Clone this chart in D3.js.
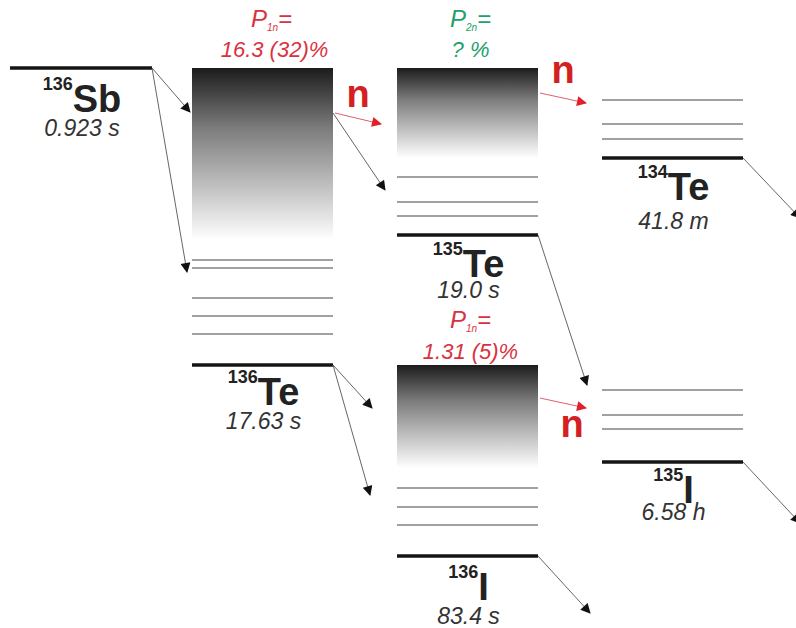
<!DOCTYPE html>
<html>
<head>
<meta charset="utf-8">
<script src="https://cdn.jsdelivr.net/npm/d3@7"></script>
<style>
  body { margin: 0; background: #fff; }
  svg { display: block; font-family: "Liberation Sans", Arial, sans-serif; }
</style>
</head>
<body>
<div id="chart"></div>
<script>
(function () {
  'use strict';

  // data (schematic energies, arbitrary units: larger = lower on page)
  var nuclides = [
    {id: 'sb136', A: '136', sym: 'Sb', half: '0.923 s', col: -0.89, ground: 68},
    {id: 'te136', A: '136', sym: 'Te', half: '17.63 s', col: 0, ground: 365},
    {id: 'te135', A: '135', sym: 'Te', half: '19.0 s', col: 1, ground: 235},
    {id: 'te134', A: '134', sym: 'Te', half: '41.8 m', col: 2, ground: 158},
    {id: 'i136', A: '136', sym: 'I', half: '83.4 s', col: 1, ground: 556},
    {id: 'i135', A: '135', sym: 'I', half: '6.58 h', col: 2, ground: 462}
  ];

  var excited = {
    te136: [260, 268, 298, 316, 334],
    te135: [177, 202, 216],
    te134: [100, 124, 139],
    i136: [488, 507, 525],
    i135: [390, 415, 429]
  };

  // neutron-unbound continuum (top, bottom)
  var continua = [
    {id: 'te136', top: 68, bottom: 240},
    {id: 'te135', top: 68, bottom: 158},
    {id: 'i136', top: 365, bottom: 468}
  ];

  var pn = [
    {id: 'te136', sub: '1n', value: '16.3 (32)%', kind: 'p1'},
    {id: 'te135', sub: '2n', value: '? %', kind: 'p2'},
    {id: 'i136', sub: '1n', value: '1.31 (5)%', kind: 'p1'}
  ];

  // beta transitions
  var betas = [
    {from: 'sb136', y0: 68, to: 'te136', y1: 112},
    {from: 'sb136', y0: 68, to: 'te136', y1: 272},
    {from: 'te136', y0: 113, to: 'te135', y1: 190},
    {from: 'te136', y0: 365, to: 'i136', y1: 408},
    {from: 'te136', y0: 365, to: 'i136', y1: 495},
    {from: 'te135', y0: 235, to: 'i135', y1: 385},
    {from: 'i136', y0: 556, to: 'out', y1: 613},
    {from: 'te134', y0: 158, to: 'out2', y1: 218},
    {from: 'i135', y0: 462, to: 'out2', y1: 523}
  ];

  // beta-delayed neutron emission
  var neutrons = [
    {from: 'te136', y0: 113, y1: 124},
    {from: 'te135', y0: 93, y1: 103},
    {from: 'i136', y0: 398, y1: 408}
  ];

  var W = 796, H = 628;
  var svg = d3.select('#chart').append('svg').attr('width', W).attr('height', H);

  var x = d3.scaleLinear().domain([0, 2]).range([192, 602]);
  var y = d3.scaleLinear().domain([0, 628]).range([0, 628]);
  var levelW = 141;

  // label layout tweaks (offset below ground for symbol / half-life)
  var labelDy = {
    sb136: [44, 68], te136: [40, 64], te135: [42, 63],
    te134: [42, 71], i136: [44, 68], i135: [41, 58]
  };
  var arrowDx = [-2, -5, -12, -25, -27, -15];
  var nLabel = {te136: [358, 107], te135: [563, 83], i136: [572, 437]};

  var byId = {};
  nuclides.forEach(function (d) { byId[d.id] = d; });

  function left(id) { return id === 'sb136' ? 10 : x(byId[id].col); }
  function right(id) { return id === 'sb136' ? 152 : x(byId[id].col) + levelW; }
  function mid(id) { return id === 'sb136' ? 81 : x(byId[id].col) + levelW / 2; }

  var defs = svg.append('defs');
  var grad = defs.append('linearGradient').attr('id', 'cont')
    .attr('x1', 0).attr('y1', 0).attr('x2', 0).attr('y2', 1);
  grad.append('stop').attr('offset', '0%').attr('stop-color', '#1c1c1c');
  grad.append('stop').attr('offset', '35%').attr('stop-color', '#7c7c7c');
  grad.append('stop').attr('offset', '100%').attr('stop-color', '#ffffff');

  function marker(id, color) {
    defs.append('marker').attr('id', id)
      .attr('viewBox', '0 0 10 10').attr('refX', 9).attr('refY', 5)
      .attr('markerWidth', 12).attr('markerHeight', 10)
      .attr('markerUnits', 'userSpaceOnUse')
      .attr('orient', 'auto')
      .append('path').attr('d', 'M0,0L10,5L0,10Z').attr('fill', color);
  }
  marker('arrK', '#111');
  marker('arrR', '#e0202a');

  // continua
  svg.selectAll('.cont').data(continua).enter().append('rect')
    .attr('class', 'cont')
    .attr('x', function (d) { return left(d.id); })
    .attr('y', function (d) { return y(d.top); })
    .attr('width', levelW)
    .attr('height', function (d) { return y(d.bottom) - y(d.top); })
    .attr('fill', 'url(#cont)');

  // excited levels
  Object.keys(excited).forEach(function (id) {
    svg.selectAll('.lv-' + id).data(excited[id]).enter().append('line')
      .attr('class', 'lv-' + id)
      .attr('x1', left(id)).attr('x2', right(id))
      .attr('y1', function (d) { return y(d); })
      .attr('y2', function (d) { return y(d); })
      .attr('stroke', '#444').attr('stroke-width', 1.2);
  });

  // ground states
  svg.selectAll('.gs').data(nuclides).enter().append('line')
    .attr('class', 'gs')
    .attr('x1', function (d) { return left(d.id); })
    .attr('x2', function (d) { return right(d.id); })
    .attr('y1', function (d) { return y(d.ground); })
    .attr('y2', function (d) { return y(d.ground); })
    .attr('stroke', '#151515').attr('stroke-width', 3.5);

  // nuclide labels
  var lab = svg.selectAll('.nlab').data(nuclides).enter().append('g').attr('class', 'nlab');
  lab.append('text')
    .attr('x', function (d) { return mid(d.id) + 1; })
    .attr('y', function (d) { return y(d.ground) + labelDy[d.id][0]; })
    .attr('text-anchor', 'middle')
    .attr('fill', '#222')
    .attr('font-weight', 'bold')
    .each(function (d) {
      var t = d3.select(this);
      t.append('tspan').attr('font-size', 18).attr('dy', -22).text(d.A);
      t.append('tspan').attr('font-size', 38).attr('dy', 22).text(d.sym);
    });
  lab.append('text')
    .attr('x', function (d) { return mid(d.id) + 1; })
    .attr('y', function (d) { return y(d.ground) + labelDy[d.id][1]; })
    .attr('text-anchor', 'middle')
    .attr('fill', '#333')
    .attr('font-style', 'italic')
    .attr('font-size', 23)
    .text(function (d) { return d.half; });

  // Pn labels
  var pcol = {p1: '#d9323f', p2: '#22a06a'};
  var pl = svg.selectAll('.pn').data(pn).enter().append('g').attr('class', 'pn');
  pl.append('text')
    .attr('x', function (d) { return mid(d.id) + (d.id === 'te136' ? 9 : 3); })
    .attr('y', function (d) { return y(d.id === 'i136' ? 328 : 27); })
    .attr('text-anchor', 'middle')
    .attr('fill', function (d) { return pcol[d.kind]; })
    .attr('font-style', 'italic').attr('font-size', 24)
    .each(function (d) {
      var t = d3.select(this);
      t.append('tspan').text('P');
      t.append('tspan').attr('font-size', 10).attr('dy', 4).text(d.sub);
      t.append('tspan').attr('dy', -4).text('=');
    });
  pl.append('text')
    .attr('x', function (d) { return mid(d.id) + (d.id === 'te136' ? 12 : 3); })
    .attr('y', function (d) { return y(d.id === 'i136' ? 359 : 57); })
    .attr('text-anchor', 'middle')
    .attr('fill', function (d) { return pcol[d.kind]; })
    .attr('font-style', 'italic').attr('font-size', 22)
    .text(function (d) { return d.value; });

  // beta arrows
  function targetX(d, i) {
    if (d.to === 'out') return 590;
    if (d.to === 'out2') return 800;
    return left(d.to) + arrowDx[i];
  }
  svg.selectAll('.beta').data(betas).enter().append('line')
    .attr('class', 'beta')
    .attr('x1', function (d) { return right(d.from); })
    .attr('y1', function (d) { return y(d.y0); })
    .attr('x2', targetX)
    .attr('y2', function (d) { return y(d.y1); })
    .attr('stroke', '#555').attr('stroke-width', 0.9)
    .attr('marker-end', 'url(#arrK)');

  // neutron arrows
  svg.selectAll('.neut').data(neutrons).enter().append('line')
    .attr('class', 'neut')
    .attr('x1', function (d) { return right(d.from) + 2; })
    .attr('y1', function (d) { return y(d.y0); })
    .attr('x2', function (d) { return right(d.from) + 48; })
    .attr('y2', function (d) { return y(d.y1); })
    .attr('stroke', '#e0606a').attr('stroke-width', 1)
    .attr('marker-end', 'url(#arrR)');
  svg.selectAll('.nlabel').data(neutrons).enter().append('text')
    .attr('class', 'nlabel')
    .attr('x', function (d) { return nLabel[d.from][0]; })
    .attr('y', function (d) { return nLabel[d.from][1]; })
    .attr('text-anchor', 'middle')
    .attr('fill', '#d42020').attr('font-weight', 'bold').attr('font-size', 38)
    .text('n');
}());
</script>
</body>
</html>
